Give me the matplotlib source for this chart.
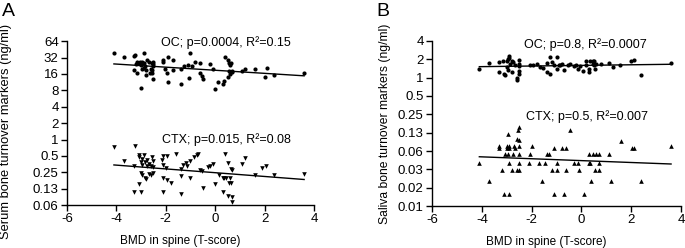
import numpy as np
import matplotlib
matplotlib.use("Agg")
import matplotlib.pyplot as plt
from matplotlib.ticker import FixedLocator, FixedFormatter, NullLocator

plt.rcParams['font.family'] = ['Liberation Sans', 'DejaVu Sans']
plt.rcParams['axes.unicode_minus'] = False

# ---- Panel A: serum markers ----
serum_oc_x = [-4.1, -3.7, -3.3, -3.25, -3.3, -3.15, -3.1, -3.0, -2.95, -2.9, -3.0, -2.75, -2.7,
              -2.9, -2.85, -3.15, -2.8, -2.95, -2.8, -2.55, -2.5, -2.55, -2.5, -2.55, -2.6, -2.5,
              -2.1, -2.1, -2.05, -1.95, -1.9, -1.9, -1.7, -1.7, -1.4, -1.4, -1.25, -1.1, -1.05,
              -1.0, -0.95, -0.8, -0.6, -0.6, -0.55, -0.5, -0.2, -0.1, 0.0, 0.1, 0.35, 0.4, 0.5,
              0.55, 0.6, 0.65, 0.5, 0.6, 0.55, 0.7, 0.3, 0.7, 1.1, 1.2, 1.6, 2.1, 2.0, 2.4, 3.6,
              -3.05, -3.2, -2.9, -2.65, -2.5]
serum_oc_y = [38, 33, 34, 36, 19, 27, 25, 23, 27, 38, 9, 29, 27,
              25, 22, 16.4, 15, 20, 19, 25, 22, 19, 12.7, 17, 20, 26,
              28.6, 26, 20, 16.5, 11.5, 33, 29, 19, 10.5, 20, 22, 23, 13.5,
              38, 22.5, 27, 25, 16.5, 14.5, 13, 24, 20, 8.3, 11.5, 12, 33, 29,
              25, 23, 25, 14, 16, 18, 17.5, 10.5, 18.5, 18, 20, 20, 20.5, 14, 15.5, 16.5,
              26, 24, 21, 17, 24]

serum_ctx_x = [-4.1, -3.7, -3.3, -3.3, -3.25, -3.1, -3.1, -3.1, -3.0, -2.9, -2.95, -3.0, -2.95,
               -2.85, -2.75, -2.55, -2.5, -2.7, -2.75, -2.6, -2.5, -3.0, -2.95, -2.85, -2.8,
               -2.7, -2.6, -2.5, -2.1, -1.95, -2.15, -2.1, -2.0, -2.1, -1.95, -2.1, -1.8, -1.6,
               -1.4, -1.4, -1.4, -1.3, -1.2, -1.15, -1.0, -1.0, -0.85, -0.75, -0.7, -0.6, -0.55,
               -0.5, -0.3, -0.2, -0.1, 0.0, 0.15, 0.3, 0.3, 0.4, 0.5, 0.35, 0.45, 0.55, 0.6,
               0.65, 0.7, 0.65, 0.5, 0.7, 0.7, 1.1, 1.2, 1.6, 1.9, 2.05, 2.4, 3.6]
serum_ctx_y = [0.74, 0.40, 0.32, 0.11, 0.77, 0.52, 0.48, 0.15, 0.11, 0.52, 0.43, 0.38, 0.34,
               0.39, 0.42, 0.47, 0.41, 0.35, 0.32, 0.32, 0.31, 0.24, 0.22, 0.20, 0.19,
               0.23, 0.22, 0.24, 0.50, 0.49, 0.42, 0.34, 0.30, 0.20, 0.18, 0.11, 0.16, 0.54,
               0.29, 0.21, 0.10, 0.34, 0.37, 0.32, 0.20, 0.40, 0.47, 0.53, 0.55, 0.27, 0.26,
               0.13, 0.31, 0.33, 0.35, 0.15, 0.22, 0.20, 0.11, 0.54, 0.37, 0.20, 0.20, 0.16, 0.20,
               0.29, 0.28, 0.16, 0.09, 0.072, 0.088, 0.35, 0.46, 0.22, 0.30, 0.33, 0.22, 0.23]

# ---- Panel B: saliva markers ----
saliva_oc_x = [-4.1, -3.7, -3.3, -3.3, -3.15, -3.1, -3.05, -3.0, -2.95, -2.9, -2.9, -2.8, -2.75,
               -2.85, -2.95, -3.0, -2.8, -2.65, -2.6, -2.6, -2.5, -2.5, -2.5, -2.5, -2.5, -2.05,
               -1.95, -1.8, -1.65, -1.55, -1.4, -1.4, -1.25, -1.25, -1.2, -1.1, -1.0, -1.0, -0.9,
               -0.85, -0.8, -0.7, -0.55, -0.45, -0.3, -0.2, -0.15, -0.05, 0.05, 0.2, 0.2, 0.3,
               0.35, 0.45, 0.5, 0.45, 0.5, 0.3, 0.55, 0.6, 0.8, 1.1, 1.25, 1.55, 2.0, 2.1, 2.4, 3.6]
saliva_oc_y = [1.4, 1.74, 1.24, 1.8, 1.9, 1.13, 1.1, 1.9, 2.0, 2.1, 2.25, 1.87, 1.8,
               1.7, 1.33, 1.5, 1.24, 1.6, 0.9, 0.98, 1.95, 1.7, 1.55, 1.3, 1.13, 1.6,
               1.6, 1.7, 1.5, 1.45, 1.76, 1.24, 1.13, 2.2, 1.8, 1.6, 2.2, 1.4, 1.6,
               1.6, 1.7, 1.33, 1.6, 1.7, 1.55, 1.6, 1.4, 1.55, 1.3, 1.6, 1.85, 1.4,
               1.85, 1.85, 1.85, 1.7, 1.6, 1.24, 1.4, 1.65, 1.7, 1.74, 1.5, 1.6, 1.85, 1.95, 1.1, 1.75]

saliva_ctx_x = [-4.1, -3.7, -3.3, -3.3, -3.2, -3.1, -2.9, -3.0, -2.9, -3.0, -2.9, -2.95, -3.05,
                -2.95, -2.75, -2.9, -2.8, -2.7, -2.65, -2.6, -2.5, -2.6, -2.55, -2.5, -2.5, -2.5,
                -2.5, -2.5, -2.05, -2.1, -2.0, -1.7, -1.6, -1.4, -1.45, -1.3, -1.2, -1.1, -1.1,
                -1.0, -1.0, -0.8, -0.7, -0.6, -0.6, -0.45, -0.3, -0.15, -0.1, 0.1, 0.3, 0.3, 0.35,
                0.4, 0.45, 0.55, 0.6, 0.7, 0.7, 0.7, 1.1, 1.2, 1.6, 2.05, 2.1, 2.4, 3.6]
saliva_ctx_y = [0.04, 0.02, 0.07, 0.075, 0.03, 0.0125, 0.0125, 0.075, 0.075, 0.07, 0.07, 0.12, 0.055,
                0.055, 0.055, 0.04, 0.03, 0.075, 0.07, 0.03, 0.03, 0.1, 0.14, 0.155, 0.095, 0.075,
                0.055, 0.04, 0.055, 0.04, 0.075, 0.04, 0.02, 0.055, 0.04, 0.055, 0.03, 0.07, 0.0125,
                0.04, 0.03, 0.07, 0.0125, 0.03, 0.07, 0.14, 0.04, 0.04, 0.03, 0.0125, 0.055, 0.04, 0.04,
                0.02, 0.055, 0.03, 0.055, 0.055, 0.04, 0.03, 0.055, 0.02, 0.09, 0.07, 0.07, 0.02, 0.075]

serum_ticks = [0.06, 0.13, 0.25, 0.5, 1, 2, 4, 8, 16, 32, 64]
saliva_ticks = [0.01, 0.02, 0.03, 0.06, 0.13, 0.25, 0.5, 1, 2, 4]


def fit_line(ax, x, y):
    x = np.array(x)
    k, b = np.polyfit(x, np.log2(y), 1)
    xx = np.array([x.min(), x.max()])
    ax.plot(xx, 2 ** (k * xx + b), color='black', lw=1.0)


def style_axis(ax, ticks, top_exp):
    n = len(ticks)
    pos = [2.0 ** (top_exp - n + 1 + i) for i in range(n)]
    ax.set_yscale('log', base=2)
    ax.set_ylim(pos[0], pos[-1])
    ax.yaxis.set_major_locator(FixedLocator(pos))
    ax.yaxis.set_major_formatter(FixedFormatter([str(t) for t in ticks]))
    ax.yaxis.set_minor_locator(NullLocator())
    ax.set_xlim(-6, 4)
    ax.set_xticks([-6, -4, -2, 0, 2, 4])
    ax.spines['top'].set_visible(False)
    ax.spines['right'].set_visible(False)
    for s in ('left', 'bottom'):
        ax.spines[s].set_linewidth(1.0)
    ax.tick_params(direction='out', length=4, width=1.0, labelsize=9.5, pad=2)


fig = plt.figure(figsize=(6.85, 2.48), dpi=100)
axA = fig.add_axes([0.0978, 0.173, 0.3606, 0.661])
axB = fig.add_axes([0.6307, 0.169, 0.3635, 0.666])

axA.scatter(serum_oc_x, serum_oc_y, marker='o', s=9, color='black', linewidths=0, clip_on=False)
axA.scatter(serum_ctx_x, serum_ctx_y, marker='v', s=11, color='black', linewidths=0, clip_on=False)
fit_line(axA, serum_oc_x, serum_oc_y)
fit_line(axA, serum_ctx_x, serum_ctx_y)
style_axis(axA, serum_ticks, 6)
axA.set_xlabel('BMD in spine (T-score)', fontsize=8.5)
axA.set_ylabel('Serum bone turnover markers (ng/ml)', fontsize=9.3)
axA.xaxis.set_label_coords(0.457, -0.185)
axA.yaxis.set_label_coords(-0.222, 0.45)
axA.text(0.644, 0.994, 'OC; p=0.0004, R²=0.15', transform=axA.transAxes,
         ha='center', va='center', fontsize=9)
axA.text(0.644, 0.40, 'CTX; p=0.015, R²=0.08', transform=axA.transAxes,
         ha='center', va='center', fontsize=9)

axB.scatter(saliva_oc_x, saliva_oc_y, marker='o', s=9, color='black', linewidths=0, clip_on=False)
axB.scatter(saliva_ctx_x, saliva_ctx_y, marker='^', s=11, color='black', linewidths=0, clip_on=False)
fit_line(axB, saliva_oc_x, saliva_oc_y)
fit_line(axB, saliva_ctx_x, saliva_ctx_y)
style_axis(axB, saliva_ticks, 2)
axB.set_xlabel('BMD in spine (T-score)', fontsize=8.5)
axB.set_ylabel('Saliva bone turnover markers (ng/ml)', fontsize=8.7)
axB.xaxis.set_label_coords(0.458, -0.18)
axB.yaxis.set_label_coords(-0.165, 0.5)
axB.text(0.615, 0.976, 'OC; p=0.8, R²=0.0007', transform=axB.transAxes,
         ha='center', va='center', fontsize=9)
axB.text(0.622, 0.54, 'CTX; p=0.5, R²=0.007', transform=axB.transAxes,
         ha='center', va='center', fontsize=9)

fig.text(8 / 685, 1 - 12 / 248, 'A', fontsize=14, ha='center', va='center')
fig.text(383 / 685, 1 - 12 / 248, 'B', fontsize=14, ha='center', va='center')

fig.savefig('out.png', dpi=100)
